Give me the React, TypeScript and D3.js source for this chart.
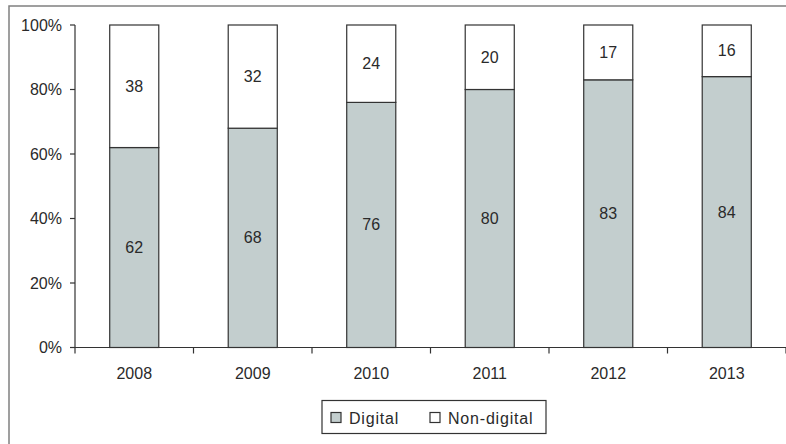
import React from "react";
import * as d3 from "d3";

const years = ["2008", "2009", "2010", "2011", "2012", "2013"];
const digital = [62, 68, 76, 80, 83, 84];
const nonDigital = [38, 32, 24, 20, 17, 16];
const yTicks = [0, 20, 40, 60, 80, 100];
const seriesNames = ["Digital", "Non-digital"];

const W = 786;
const H = 444;
const FONT = "'Liberation Sans', Arial, sans-serif";
const GRAY = "#c3cece";
const AXIS = "#333";
const TXT = "#2a2a2a";

export default function App() {
  const x = d3.scaleBand().domain(years).range([75, 786]).paddingInner(0.586).paddingOuter(0.293);
  const xTicks = d3.scaleBand().domain(years).range([75, 786]);
  const y = d3.scaleLinear().domain([0, 100]).range([347.5, 25]);
  const bw = x.bandwidth();

  return (
    <svg width={W} height={H} style={{ position: "absolute", left: 0, top: 0, background: "#fff" }}>
      <rect x={9} y={6} width={W + 10} height={H + 10} fill="#fff" stroke="#808080" strokeWidth={1.5} />
      {years.map((yr, i) => {
        const x0 = x(yr)!;
        const d = digital[i];
        const n = nonDigital[i];
        return (
          <g key={yr}>
            <rect x={x0} y={y(d)} width={bw} height={y(0) - y(d)} fill={GRAY} stroke={AXIS} strokeWidth={1.2} />
            <rect x={x0} y={y(100)} width={bw} height={y(d) - y(100)} fill="#fff" stroke={AXIS} strokeWidth={1.2} />
            <text x={x0 + bw / 2} y={y(d / 2)} textAnchor="middle" dominantBaseline="central" fontFamily={FONT} fontSize={16} fill={TXT}>{d}</text>
            <text x={x0 + bw / 2} y={y(d + n / 2)} textAnchor="middle" dominantBaseline="central" fontFamily={FONT} fontSize={16} fill={TXT}>{n}</text>
          </g>
        );
      })}
      {/* y axis */}
      <line x1={75} x2={75} y1={y(100)} y2={y(0)} stroke={AXIS} strokeWidth={1.2} />
      {yTicks.map((t) => (
        <g key={t}>
          <line x1={70} x2={75} y1={y(t)} y2={y(t)} stroke={AXIS} strokeWidth={1.2} />
          <text x={62} y={y(t)} textAnchor="end" dominantBaseline="central" fontFamily={FONT} fontSize={16} fill={TXT}>{t + "%"}</text>
        </g>
      ))}
      {/* x axis */}
      <line x1={75} x2={786} y1={y(0)} y2={y(0)} stroke={AXIS} strokeWidth={1.2} />
      {[...years.map((yr) => xTicks(yr)!), 786].map((t, i) => (
        <line key={i} x1={t} x2={t} y1={y(0)} y2={y(0) + 6} stroke={AXIS} strokeWidth={1.2} />
      ))}
      {years.map((yr) => (
        <text key={yr} x={xTicks(yr)! + xTicks.bandwidth() / 2} y={373} textAnchor="middle" dominantBaseline="central" fontFamily={FONT} fontSize={16} fill={TXT}>{yr}</text>
      ))}
      {/* legend */}
      <rect x={322} y={400.5} width={224} height={33} fill="#fff" stroke={AXIS} strokeWidth={1.2} />
      <rect x={331} y={412.5} width={10} height={10} fill={GRAY} stroke={AXIS} strokeWidth={1.2} />
      <text x={349} y={418} dominantBaseline="central" fontFamily={FONT} fontSize={16} fill={TXT} letterSpacing={0.8}>{seriesNames[0]}</text>
      <rect x={430} y={412.5} width={10} height={10} fill="#fff" stroke={AXIS} strokeWidth={1.2} />
      <text x={448} y={418} dominantBaseline="central" fontFamily={FONT} fontSize={16} fill={TXT} letterSpacing={0.8}>{seriesNames[1]}</text>
    </svg>
  );
}
